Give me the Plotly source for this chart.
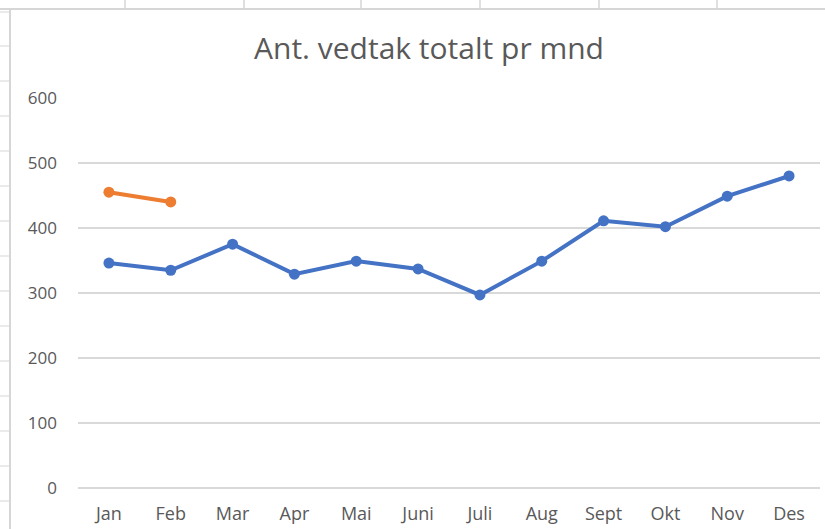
import plotly.graph_objects as go

months = ["Jan", "Feb", "Mar", "Apr", "Mai", "Juni", "Juli", "Aug", "Sept", "Okt", "Nov", "Des"]
series_a = [346, 335, 375, 329, 349, 337, 297, 349, 411, 402, 449, 480]
months_b = ["Jan", "Feb"]
series_b = [455, 440]
y_ticks = [0, 100, 200, 300, 400, 500, 600]

W, H = 825, 529
L, R, T, B = 78, 820, 97, 488

def px(x):
    return (x - L) / (R - L)

def py(y):
    return (B - y) / (B - T)

fig = go.Figure()
fig.add_trace(go.Scatter(x=months, y=series_a, mode="lines+markers",
                         line=dict(color="#4472C4", width=4),
                         marker=dict(size=11, color="#4472C4"), showlegend=False))
fig.add_trace(go.Scatter(x=months_b, y=series_b, mode="lines+markers",
                         line=dict(color="#ED7D31", width=4),
                         marker=dict(size=11, color="#ED7D31"), showlegend=False))

shapes = []
gc = "#d6d6d6"
# spreadsheet header strip lines
shapes.append(dict(type="line", xref="paper", yref="paper", x0=px(0), x1=px(W), y0=py(9), y1=py(9),
                   line=dict(color=gc, width=2)))
for cx in [125, 244, 361, 480, 599, 717]:
    shapes.append(dict(type="line", xref="paper", yref="paper", x0=px(cx), x1=px(cx), y0=py(0), y1=py(9),
                       line=dict(color=gc, width=1.5)))
# chart left border
shapes.append(dict(type="line", xref="paper", yref="paper", x0=px(10), x1=px(10), y0=py(9), y1=py(H),
                   line=dict(color=gc, width=2)))
# left row lines
for ry in [12, 46, 81, 116, 151, 186, 221, 256, 291, 326, 361, 396, 431, 466, 501]:
    shapes.append(dict(type="line", xref="paper", yref="paper", x0=px(0), x1=px(9), y0=py(ry), y1=py(ry),
                       line=dict(color=gc, width=1)))

fig.update_layout(
    width=W, height=H,
    margin=dict(l=L, r=W - R, t=T, b=H - B),
    paper_bgcolor="white", plot_bgcolor="white",
    font=dict(family="Open Sans, Liberation Sans, sans-serif", color="#595959", size=18),
    title=dict(text="Ant. vedtak totalt pr mnd", xref="container", x=429 / W, xanchor="center",
               yref="container", y=1 - 48 / H, yanchor="middle", font=dict(size=30, color="#595959")),
    shapes=shapes,
    xaxis=dict(type="category", categoryorder="array", categoryarray=months,
               range=[-0.5, 11.5], showgrid=False, showline=False, zeroline=False,
               ticks="", tickfont=dict(size=18, color="#595959"), ticklabelstandoff=13),
    yaxis=dict(range=[0, 601.5], tickvals=y_ticks, showgrid=True, gridcolor="#d9d9d9", gridwidth=1.5,
               zeroline=True, zerolinecolor="#d9d9d9", zerolinewidth=1.5, showline=False,
               ticks="", tickfont=dict(size=17, color="#595959"), ticklabelstandoff=20),
)

fig.write_html("out.html", config={"displayModeBar": False},
               post_script="document.body.style.margin='0';document.body.style.overflow='hidden';")
